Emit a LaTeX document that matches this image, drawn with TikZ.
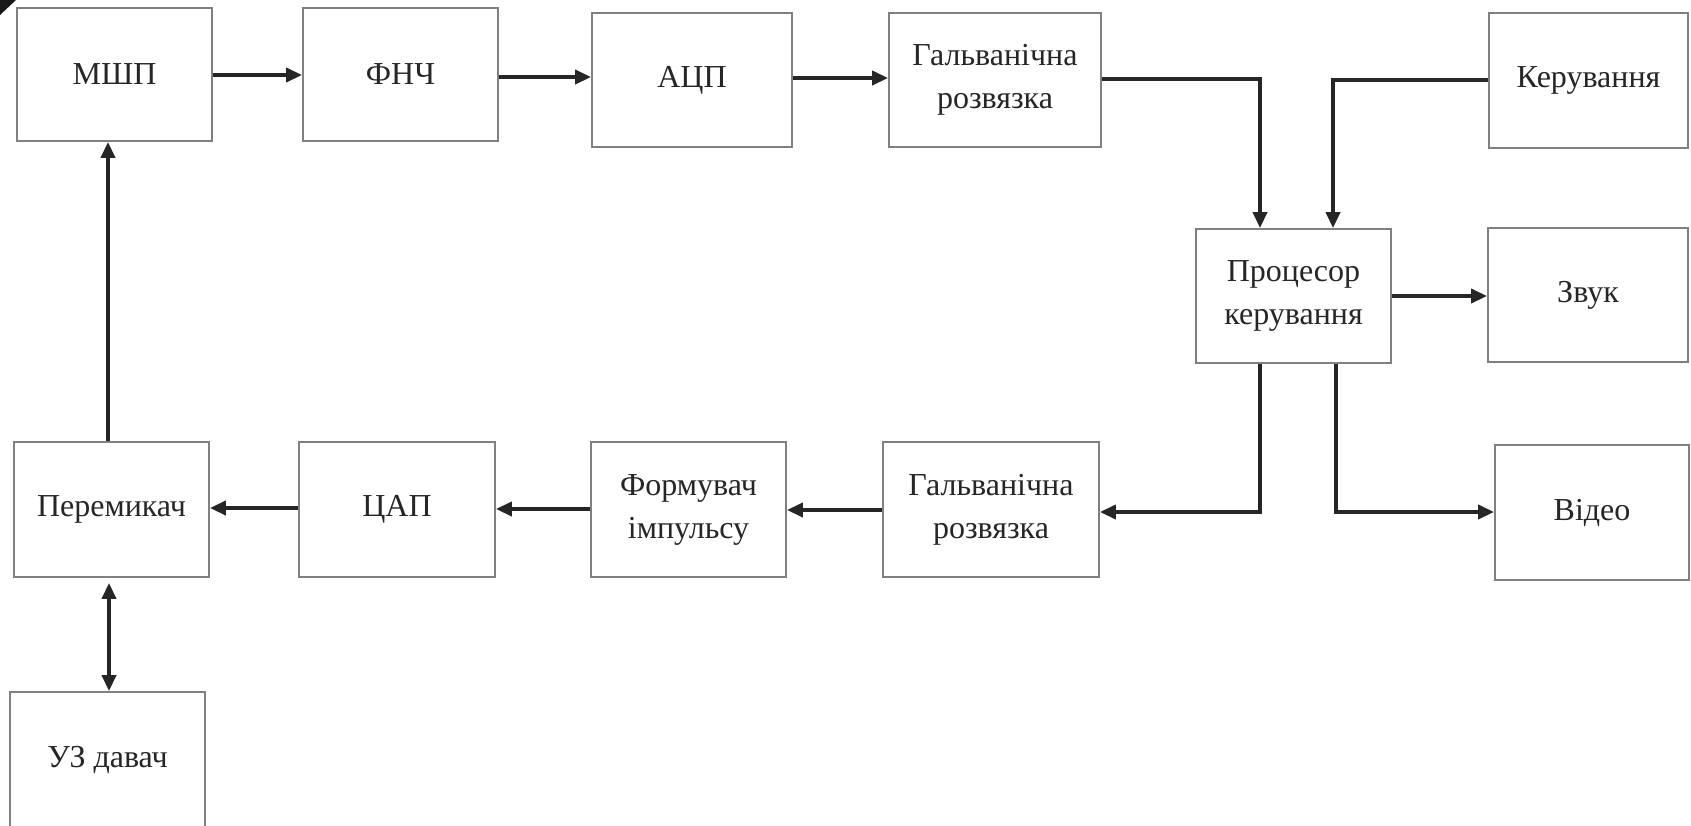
\documentclass[tikz,border=0pt]{standalone}
\usepackage{fontspec}
\setmainfont{Liberation Serif}
\usetikzlibrary{arrows.meta}
\begin{document}
\begin{tikzpicture}[x=0.5pt,y=-0.5pt,
  blk/.style={draw=black!50, line width=0.9pt, fill=white, inner sep=0pt, align=center,
    text=black!85, font=\fontsize{16}{21.5}\selectfont, minimum height=67pt},
  arr/.style={line width=1.8pt, draw=black!85, -{Triangle[length=8pt,width=7pt]}},
  darr/.style={line width=1.8pt, draw=black!85, {Triangle[length=8pt,width=7pt]}-{Triangle[length=8pt,width=7pt]}}]
\fill[white] (0,0) rectangle (1691,825);
\useasboundingbox (0,0) rectangle (1691,825);
% nodes
\node[blk, minimum width=97.5pt, minimum height=66.5pt] (mshp) at (114.5,74.5) {МШП};
\node[blk, minimum width=97.5pt, minimum height=66.5pt] (fnch) at (400.5,74.5) {ФНЧ};
\node[blk, minimum width=100pt] (acp) at (692,80) {АЦП};
\node[blk, minimum width=106pt] (galt) at (995,80) {Гальванічна\\розвязка};
\node[blk, minimum width=99.5pt, minimum height=67.5pt] (ker) at (1588.5,80.5) {Керування};
\node[blk, minimum width=97.5pt] (proc) at (1293.5,296) {Процесор\\керування};
\node[blk, minimum width=100pt] (zvuk) at (1588,295) {Звук};
\node[blk, minimum width=97pt, minimum height=67.5pt] (video) at (1592,512.5) {Відео};
\node[blk, minimum width=108pt, minimum height=67.5pt] (galb) at (991,509.5) {Гальванічна\\розвязка};
\node[blk, minimum width=97.5pt, minimum height=67.5pt] (form) at (688.5,509.5) {Формувач\\імпульсу};
\node[blk, minimum width=98pt, minimum height=67.5pt] (cap) at (397,509.5) {ЦАП};
\node[blk, minimum width=97.5pt, minimum height=67.5pt] (perem) at (111.5,509.5) {Перемикач};
\node[blk, minimum width=97.5pt, minimum height=67.5pt] (uz) at (107.5,759.5) {УЗ давач};
% connectors
\draw[arr] (mshp.east |- 0,75) -- (fnch.west |- 0,75);
\draw[arr] (fnch.east |- 0,77) -- (acp.west |- 0,77);
\draw[arr] (acp.east |- 0,78) -- (galt.west |- 0,78);
\draw[arr] (galt.east |- 0,79) -| (proc.north -| 1260,0);
\draw[arr] (ker.west |- 0,80) -| (proc.north -| 1333,0);
\draw[arr] (proc.east |- 0,296) -- (zvuk.west |- 0,296);
\draw[arr] (proc.south -| 1260,0) |- (galb.east |- 0,512);
\draw[arr] (proc.south -| 1336,0) |- (video.west |- 0,512);
\draw[arr] (galb.west |- 0,510) -- (form.east |- 0,510);
\draw[arr] (form.west |- 0,509) -- (cap.east |- 0,509);
\draw[arr] (cap.west |- 0,508) -- (perem.east |- 0,508);
\draw[arr] (perem.north -| 108,0) -- (mshp.south -| 108,0);
\draw[darr, shorten <=2.5pt] (perem.south -| 109,0) -- (uz.north -| 109,0);
% dark screen corner
\fill[black!90] (0,0) -- (16,0) -- (0,15) -- cycle;
\end{tikzpicture}
\end{document}
